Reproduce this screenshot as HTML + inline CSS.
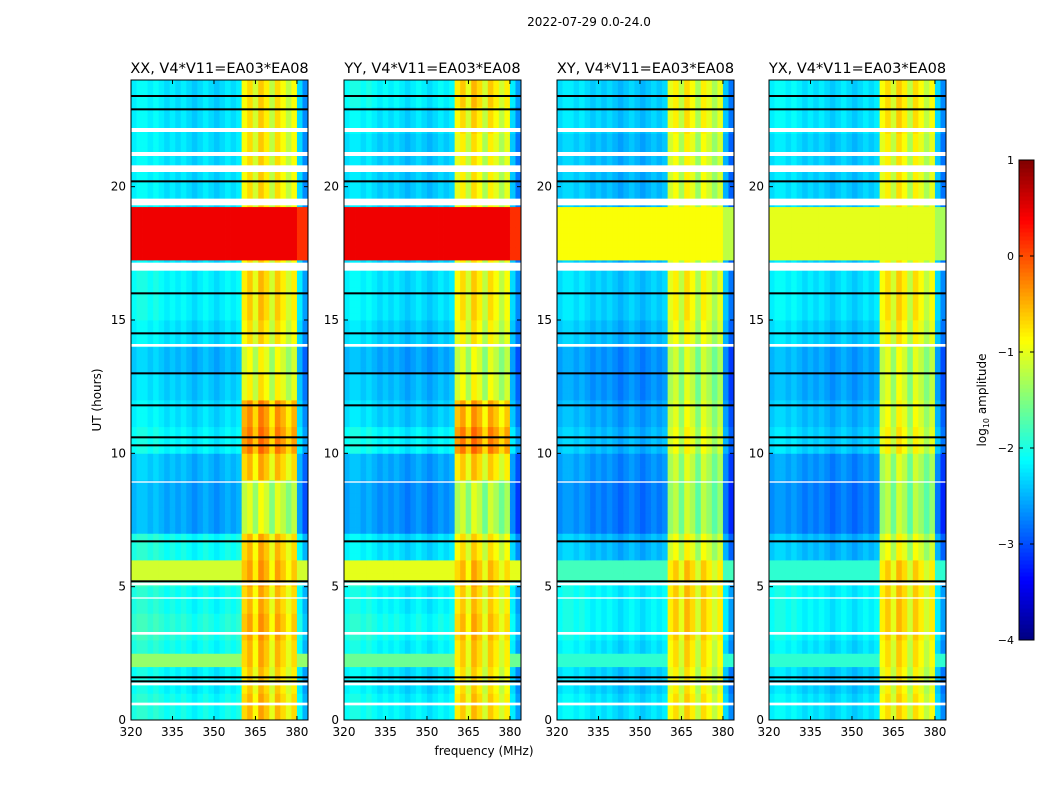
<!DOCTYPE html>
<html><head><meta charset="utf-8">
<style>
html,body{margin:0;padding:0;background:#fff;}
svg{display:block;font-family:"DejaVu Sans","Liberation Sans",sans-serif;}
</style></head>
<body>
<svg id="chart" width="1050" height="800" viewBox="0 0 1050 800">
<text x="589" y="26" font-size="12" text-anchor="middle">2022-07-29 0.0-24.0</text>
<text x="484" y="755" font-size="12" text-anchor="middle">frequency (MHz)</text>
<text transform="translate(101,400) rotate(-90)" font-size="12" text-anchor="middle">UT (hours)</text>
<g id="panels"></g>
<g id="cbar"></g>
</svg>
<script>
// ---- data ----
const panelTitles = ["XX, V4*V11=EA03*EA08","YY, V4*V11=EA03*EA08","XY, V4*V11=EA03*EA08","YX, V4*V11=EA03*EA08"];
const xTicks = [320,335,350,365,380];
const yTicks = [0,5,10,15,20];
const cbarTicks = [1,0,-1,-2,-3,-4];
// frequency bins (2 MHz) start values 320..382
const freqBins = [320,322,324,326,328,330,332,334,336,338,340,342,344,346,348,350,352,354,356,358,360,362,364,366,368,370,372,374,376,378,380,382];
// offset added in each freq bin (RFI region 360-380)
const freqOffset = [0.1,0.2,0.2,0.1,0.2,0.1,0.0,0.1,0.0,0.1,0.0,-0.1,0.0,0.1,0.0,-0.1,0.0,0.1,0.0,0.1,1.4,1.6,1.2,1.7,1.5,1.1,1.6,1.4,1.1,1.4,0.0,-0.4];
// hourly background level per panel (hours 0..23)
const hourBaseXX = [-2.1,-2.2,-2.1,-2.0,-2.1,-2.0,-2.1,-2.6,-2.6,-2.5,-2.2,-2.3,-2.4,-2.5,-2.3,-2.2,-2.2,-2.3,-2.3,-2.3,-2.3,-2.3,-2.3,-2.3];
const hourBaseYY = [-2.2,-2.3,-2.2,-2.1,-2.2,-2.1,-2.3,-2.7,-2.7,-2.6,-2.2,-2.4,-2.5,-2.6,-2.4,-2.3,-2.3,-2.4,-2.4,-2.4,-2.4,-2.4,-2.3,-2.2];
const hourBaseXY = [-2.3,-2.4,-2.3,-2.2,-2.2,-2.2,-2.5,-2.8,-2.8,-2.7,-2.5,-2.6,-2.7,-2.7,-2.5,-2.4,-2.4,-2.5,-2.5,-2.5,-2.5,-2.5,-2.4,-2.4];
const hourBaseYX = [-2.3,-2.4,-2.3,-2.2,-2.2,-2.2,-2.5,-2.8,-2.8,-2.7,-2.4,-2.5,-2.6,-2.6,-2.4,-2.3,-2.3,-2.4,-2.4,-2.4,-2.4,-2.4,-2.3,-2.3];
// full-width band overrides: start hour, end hour, level
const bandStartH = [17.15, 5.2, 1.9];
const bandEndH   = [19.3, 6.0, 2.5];
const bandLevelXX = [0.45,-1.1,-1.4];
const bandLevelYY = [0.45,-1.0,-1.6];
const bandLevelXY = [-0.9,-1.8,-1.9];
const bandLevelYX = [-1.0,-1.9,-1.9];
// flagged (white) intervals
const flagStart = [22.05,21.15,20.55,19.3,16.85,14.0,8.9,5.05,4.55,3.2,1.3,0.55];
const flagEnd   = [22.2,21.3,20.8,19.55,17.15,14.1,8.95,5.15,4.6,3.3,1.4,0.65];
// black lines
const blackLines = [23.4,22.9,20.2,16.0,14.5,13.0,11.8,10.6,10.3,6.7,5.2,1.6,1.45];

// ---- geometry ----
const panelX0 = [131,344,557,769], panelW = 177, py0 = 80, py1 = 720;
const fMin = 320, fMax = 384, tMin = 0, tMax = 24;
const xS = (p,f)=>panelX0[p] + (f-fMin)/(fMax-fMin)*panelW;
const yS = t=> py1 - (t-tMin)/(tMax-tMin)*(py1-py0);
const vMin=-4, vMax=1;
function jet(v){
  let x=Math.max(0,Math.min(1,(v-vMin)/(vMax-vMin)));
  const c=t=>Math.round(255*Math.max(0,Math.min(1,t)));
  return `rgb(${c(1.5-Math.abs(4*x-3))},${c(1.5-Math.abs(4*x-2))},${c(1.5-Math.abs(4*x-1))})`;
}
const NS="http://www.w3.org/2000/svg";
const mk=(tag,attrs,parent)=>{const e=document.createElementNS(NS,tag);for(const k in attrs)e.setAttribute(k,attrs[k]);parent.appendChild(e);return e;};
const hourBases=[hourBaseXX,hourBaseYY,hourBaseXY,hourBaseYX];
const bandLevels=[bandLevelXX,bandLevelYY,bandLevelXY,bandLevelYX];
const panelsG=document.getElementById('panels');
const rowH=0.25;
for(let p=0;p<4;p++){
  const g=mk('g',{},panelsG);
  
  
  for(let r=0;r<96;r++){
    const t0=r*rowH, tm=t0+rowH/2;
    let band=-1;
    for(let b=0;b<bandStartH.length;b++) if(tm>=bandStartH[b]&&tm<bandEndH[b]) band=b;
    const base=hourBases[p][Math.floor(tm)];
    for(let c=0;c<freqBins.length;c++){
      let v;
      const inRfi=freqBins[c]>=360&&freqBins[c]<380;
      if(band===0) v=bandLevels[p][0]+(c>=30?-0.3:0);
      else if(band>0) v=inRfi?Math.max(bandLevels[p][band],base+freqOffset[c]):bandLevels[p][band];
      else { v=base+freqOffset[c]; if(inRfi && tm>=9 && tm<12 && p<2) v+=0.4; }
      const x0=xS(p,freqBins[c]), x1=xS(p,freqBins[c]+2);
      const rect=mk('rect',{x:x0.toFixed(2),y:yS(t0+rowH).toFixed(2),width:(x1-x0+0.4).toFixed(2),height:(yS(t0)-yS(t0+rowH)+0.4).toFixed(2),fill:jet(v)},g);
      
      
    }
  }
  for(let i=0;i<flagStart.length;i++){
    const e=mk('rect',{x:panelX0[p],y:yS(flagEnd[i]),width:panelW,height:yS(flagStart[i])-yS(flagEnd[i]),fill:'#fff'},g);
    
    
  }
  for(let i=0;i<blackLines.length;i++){
    const e=mk('rect',{x:panelX0[p],y:yS(blackLines[i])-1,width:panelW,height:2,fill:'#000'},g);
    
    
  }
  const fr=mk('rect',{x:panelX0[p],y:py0,width:panelW,height:py1-py0,fill:'none',stroke:'#000','stroke-width':1},g);
  
  
  const tt=mk('text',{x:panelX0[p]+panelW/2,y:py0-7,'font-size':14.5,'text-anchor':'middle'},g);
  tt.textContent=panelTitles[p];
  
  
  for(const f of xTicks){
    const x=xS(p,f);
    mk('line',{x1:x,x2:x,y1:py1,y2:py1-4,stroke:'#000'},g);
    mk('line',{x1:x,x2:x,y1:py0,y2:py0+4,stroke:'#000'},g);
    const t=mk('text',{x:x,y:py1+16,'font-size':12,'text-anchor':'middle'},g);
    t.textContent=f;
    
    
  }
  for(const h of yTicks){
    const y=yS(h);
    mk('line',{x1:panelX0[p],x2:panelX0[p]+4,y1:y,y2:y,stroke:'#000'},g);
    mk('line',{x1:panelX0[p]+panelW,x2:panelX0[p]+panelW-4,y1:y,y2:y,stroke:'#000'},g);
    const t=mk('text',{x:panelX0[p]-5,y:y+4,'font-size':12,'text-anchor':'end'},g);
    t.textContent=h;
    
    
  }
}
// colorbar
const cb=document.getElementById('cbar');


const cbx=1019,cbw=15,cby0=160,cby1=640;
const cbY=v=>cby1-(v-vMin)/(vMax-vMin)*(cby1-cby0);
for(let i=0;i<120;i++){
  const v0=vMin+i*(vMax-vMin)/120, v1=vMin+(i+1)*(vMax-vMin)/120;
  mk('rect',{x:cbx,y:cbY(v1),width:cbw,height:cbY(v0)-cbY(v1)+0.5,fill:jet((v0+v1)/2)},cb);
}
mk('rect',{x:cbx,y:cby0,width:cbw,height:cby1-cby0,fill:'none',stroke:'#000'},cb);
for(const v of cbarTicks){
  const y=cbY(v);
  mk('line',{x1:cbx,x2:cbx+4,y1:y,y2:y,stroke:'#000'},cb);
  mk('line',{x1:cbx+cbw,x2:cbx+cbw-4,y1:y,y2:y,stroke:'#000'},cb);
  const t=mk('text',{x:cbx-5,y:y+4,'font-size':11,'text-anchor':'end'},cb);
  t.textContent=v<0?'\u2212'+(-v):String(v);
  
  
}
const cl=mk('text',{transform:'translate(986,400) rotate(-90)','font-size':12,'text-anchor':'middle'},cb);
cl.innerHTML='log<tspan font-size="8" dy="3">10</tspan><tspan dy="-3"> amplitude</tspan>';


</script>
</body></html>
